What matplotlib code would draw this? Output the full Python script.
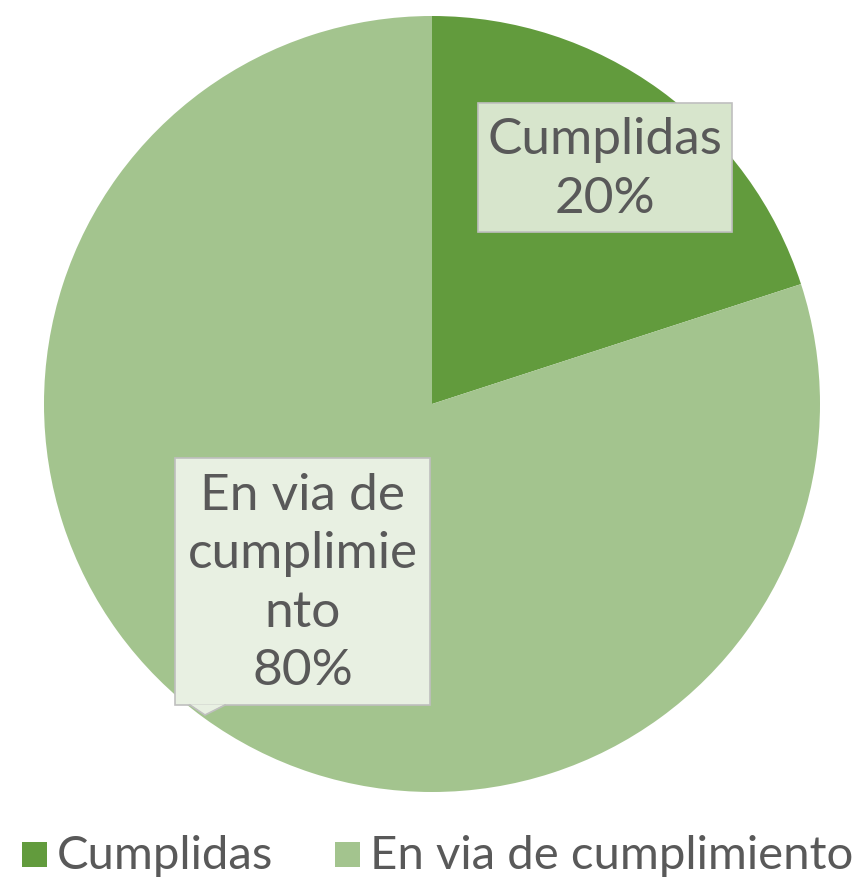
import matplotlib
matplotlib.use("Agg")
import matplotlib.pyplot as plt
from matplotlib.patches import Rectangle, Polygon

# shares of the commitments
categorias = ["Cumplidas", "En via de cumplimiento"]
etiquetas = ["Cumplidas\n20%", "En via de\ncumplimie\nnto\n80%"]
valores = [20, 80]
colores = ["#629B3D", "#A3C48E"]

plt.rcParams['font.family'] = ['Lato', 'DejaVu Sans']
gris = "#595959"

fig = plt.figure(figsize=(8.61, 8.77), dpi=100)
ax = fig.add_axes([0, 0, 1, 1])

wedges, _ = ax.pie(valores, colors=colores, startangle=90, counterclock=False,
                   center=(432, 473), radius=388, frame=True,
                   wedgeprops=dict(linewidth=0))
ax.set_xlim(0, 861)
ax.set_ylim(0, 877)
ax.set_aspect("equal")
ax.axis("off")

# callout boxes (x0, y0, w, h, fill)
cajas = [
    (478, 645, 254, 129, "#D7E5CC"),
    (175, 172, 255, 247, "#E8F0E2"),
]
for (x0, y0, w, h, fill), txt in zip(cajas, etiquetas):
    ax.add_patch(Rectangle((x0, y0), w, h, facecolor=fill, edgecolor="#BFBFBF",
                           linewidth=1.2, zorder=3))
    ax.text(x0 + w / 2, y0 + h / 2 - 2, txt, ha="center", va="center",
            fontsize=37, color=gris, linespacing=1.34, zorder=4)

# small pointer of the lower callout
ax.add_patch(Polygon([(190, 172.6), (205, 162), (225, 172.6)], closed=True,
                     facecolor="#E8F0E2", edgecolor="none", zorder=3))
ax.plot([190, 205, 225], [172, 162, 172], color="#BFBFBF", lw=1.2, zorder=3)

# legend drawn by hand: square + label for each slice
ley_x = [22, 335]
for x, cat, col in zip(ley_x, categorias, colores):
    ax.add_patch(Rectangle((x, 10), 25, 25, facecolor=col, edgecolor="none"))
    ax.text(x + 35, 21, cat, ha="left", va="center", fontsize=34, color=gris)

fig.savefig("out.png", dpi=100)
